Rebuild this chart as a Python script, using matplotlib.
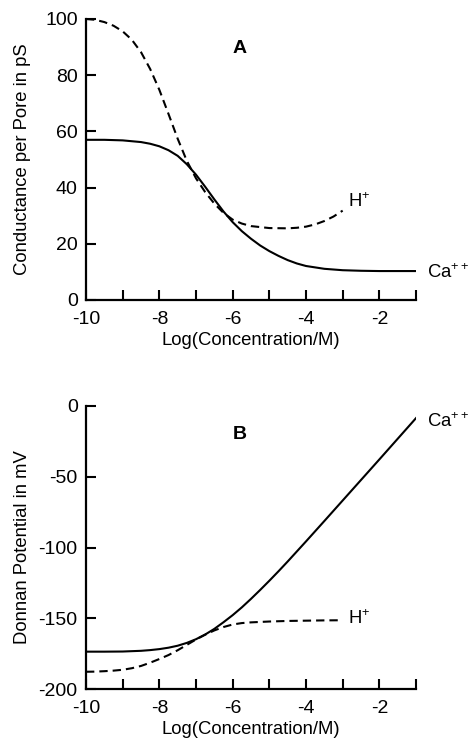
import matplotlib
matplotlib.use("Agg")
import matplotlib.pyplot as plt

plt.rcParams["font.family"] = ["Liberation Sans", "DejaVu Sans"]
plt.rcParams["mathtext.fontset"] = "custom"
plt.rcParams["mathtext.rm"] = "Liberation Sans"
plt.rcParams["mathtext.it"] = "Liberation Sans"
plt.rcParams["axes.unicode_minus"] = False

# panel A: conductance per pore (pS) vs log concentration
x_ca_a = [-10, -9.5, -9, -8.5, -8.25, -8, -7.75, -7.5, -7.25, -7, -6.75, -6.5,
          -6.25, -6, -5.75, -5.5, -5.25, -5, -4.75, -4.5, -4.25, -4, -3.5, -3,
          -2.5, -2, -1]
cond_ca = [57, 57, 56.8, 56.2, 55.6, 54.7, 53.3, 51.3, 48.3, 44.6, 40.3, 35.8,
           31.5, 27.7, 24.5, 21.8, 19.4, 17.4, 15.7, 14.2, 13.0, 12.1, 11.1,
           10.6, 10.4, 10.3, 10.3]

x_h_a = [-10, -9.75, -9.5, -9.25, -9, -8.75, -8.5, -8.25, -8, -7.75, -7.5,
         -7.25, -7, -6.75, -6.5, -6.25, -6, -5.75, -5.5, -5, -4.5, -4.25, -4,
         -3.75, -3.5, -3.25, -3]
cond_h = [100, 99.7, 98.9, 97.6, 95.6, 92.6, 88.2, 82.2, 74.8, 66.2, 57.4,
          49.5, 43.3, 38.4, 34.3, 31.0, 28.6, 27.2, 26.3, 25.6, 25.5, 25.7,
          26.1, 26.9, 28.1, 29.7, 31.8]

# panel B: Donnan potential (mV)
x_ca_b = [-10, -9.5, -9, -8.5, -8.25, -8, -7.75, -7.5, -7.25, -7, -6.75, -6.5,
          -6.25, -6, -5.75, -5.5, -5.25, -5, -4.75, -4.5, -4, -3.5, -3, -2.5,
          -2, -1.5, -1]
pot_ca = [-173.6, -173.6, -173.5, -173.0, -172.5, -171.8, -170.8, -169.4,
          -167.4, -164.8, -161.5, -157.5, -152.8, -147.8, -142.3, -136.3,
          -130.0, -123.5, -116.8, -109.9, -95.7, -81.3, -66.8, -52.3, -37.8,
          -23.2, -8.6]

x_h_b = [-10, -9.75, -9.5, -9.25, -9, -8.75, -8.5, -8.25, -8, -7.75, -7.5,
         -7.25, -7, -6.75, -6.5, -6.25, -6, -5.75, -5.5, -5.25, -5, -4.5, -4,
         -3.5, -3]
pot_h = [-187.8, -187.7, -187.4, -187.0, -186.4, -185.3, -183.7, -181.4,
         -178.8, -176.0, -172.6, -168.8, -165.0, -161.6, -158.6, -156.2,
         -154.4, -153.4, -152.9, -152.6, -152.3, -151.9, -151.7, -151.5,
         -151.4]

fig = plt.figure(figsize=(4.71, 7.5), dpi=100)
ax1 = fig.add_axes([0.1826, 0.6, 0.7006, 0.3747])
ax2 = fig.add_axes([0.1826, 0.0813, 0.7006, 0.3774])

fs = 13.3
tfs = 14
dash = (4.0, 2.4)

for ax in (ax1, ax2):
    for s in ("top", "right"):
        ax.spines[s].set_visible(False)
    for s in ("left", "bottom"):
        ax.spines[s].set_linewidth(1.6)
    ax.set_xlim(-10, -1)
    ax.set_xticks(range(-10, 0))
    ax.set_xticklabels(["-10", "", "-8", "", "-6", "", "-4", "", "-2", ""])
    ax.tick_params(direction="in", length=7.5, width=1.5, labelsize=tfs)
    ax.tick_params(axis="x", pad=8)
    ax.tick_params(axis="y", pad=6)
    ax.set_xlabel("Log(Concentration/M)", fontsize=fs)
    ax.xaxis.set_label_coords(0.5, -0.113)

ax1.plot(x_ca_a, cond_ca, color="black", lw=1.5)
ax1.plot(x_h_a, cond_h, color="black", lw=1.5, ls="--", dashes=dash)
ax1.set_ylim(0, 100)
ax1.set_yticks([0, 20, 40, 60, 80, 100])
ax1.set_ylabel("Conductance per Pore in pS", fontsize=fs)
ax1.yaxis.set_label_coords(-0.167, 0.5)
ax1.text(-5.8, 89.5, "A", fontsize=tfs, fontweight="bold", ha="center", va="center")
ax1.text(-2.85, 35, r"H$^{+}$", fontsize=fs, ha="left", va="center")
ax1.text(-0.7, 9.6, r"Ca$^{++}$", fontsize=fs, ha="left", va="center", clip_on=False)

ax2.plot(x_ca_b, pot_ca, color="black", lw=1.5)
ax2.plot(x_h_b, pot_h, color="black", lw=1.5, ls="--", dashes=dash)
ax2.set_ylim(-200, 0)
ax2.set_yticks([-200, -150, -100, -50, 0])
ax2.set_ylabel("Donnan Potential in mV", fontsize=fs)
ax2.yaxis.set_label_coords(-0.167, 0.5)
ax2.text(-5.8, -20.5, "B", fontsize=tfs, fontweight="bold", ha="center", va="center")
ax2.text(-2.85, -150.5, r"H$^{+}$", fontsize=fs, ha="left", va="center")
ax2.text(-0.7, -11, r"Ca$^{++}$", fontsize=fs, ha="left", va="center", clip_on=False)

fig.savefig("out.png", dpi=100)
